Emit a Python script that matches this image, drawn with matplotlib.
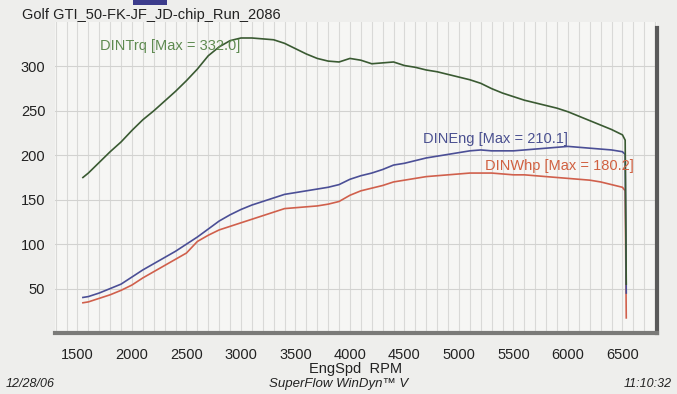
import matplotlib
matplotlib.use("Agg")
import matplotlib.pyplot as plt
from matplotlib.patches import Rectangle

plt.rcParams['font.family'] = ['Liberation Sans', 'DejaVu Sans']

rpm = [1550, 1600, 1700, 1800, 1900, 2000, 2100, 2200, 2300, 2400, 2500, 2600, 2700, 2800,
       2900, 3000, 3100, 3200, 3300, 3400, 3500, 3600, 3700, 3800, 3900, 4000, 4100, 4200,
       4300, 4400, 4500, 4600, 4700, 4800, 4900, 5000, 5100, 5200, 5300, 5400, 5500, 5600,
       5700, 5800, 5900, 6000, 6100, 6200, 6300, 6400, 6500, 6525, 6535]

din_trq = [175, 180, 192, 204, 215, 228, 240, 250, 261, 272, 284, 297, 312, 322,
           329, 332, 332, 331, 330, 326, 320, 314, 309, 306, 305, 309, 307, 303,
           304, 305, 301, 299, 296, 294, 291, 288, 285, 281, 275, 270, 266, 262,
           259, 256, 253, 249, 244, 239, 234, 229, 223, 217, 55]

din_eng = [40, 41, 45, 50, 55, 63, 71, 78, 85, 92, 100, 108, 117, 126,
           133, 139, 144, 148, 152, 156, 158, 160, 162, 164, 167, 173, 177, 180,
           184, 189, 191, 194, 197, 199, 201, 203, 205, 206, 205, 205, 205, 206,
           207, 208, 209, 210, 209, 208, 207, 206, 204, 201, 45]

din_whp = [34, 35, 39, 43, 48, 54, 62, 69, 76, 83, 90, 103, 110, 116,
           120, 124, 128, 132, 136, 140, 141, 142, 143, 145, 148, 155, 160, 163,
           166, 170, 172, 174, 176, 177, 178, 179, 180, 180, 180, 179, 178, 178,
           177, 176, 175, 174, 173, 172, 170, 167, 164, 160, 17]

x_ticks = [1500, 2000, 2500, 3000, 3500, 4000, 4500, 5000, 5500, 6000, 6500]
y_ticks = [50, 100, 150, 200, 250, 300]

title = "Golf GTI_50-FK-JF_JD-chip_Run_2086"
labels = ["DINTrq [Max = 332.0]", "DINEng [Max = 210.1]", "DINWhp [Max = 180.2]"]

fig = plt.figure(figsize=(6.77, 3.94), dpi=100)
fig.patch.set_facecolor('#eeeeec')
ax = fig.add_axes([55/677, 1-333/394, 602/677, 311/394])
ax.set_facecolor('#f6f6f4')

ax.set_xlim(1294, 6817)
ax.set_ylim(0, 350)

ax.set_xticks(x_ticks)
ax.set_yticks(y_ticks)
ax.set_xticks(range(1300, 6801, 100), minor=True)
ax.grid(which='minor', axis='x', color='#d9d9d7', linewidth=0.8)
ax.grid(which='major', axis='x', color='#d9d9d7', linewidth=0.8)
ax.grid(which='major', axis='y', color='#d2d2d0', linewidth=0.8)
ax.tick_params(which='both', length=0)
ax.tick_params(axis='x', labelsize=10.5, pad=11, colors='#222222')
ax.tick_params(axis='y', labelsize=10.5, pad=7, colors='#222222')

for s in ['left', 'top']:
    ax.spines[s].set_visible(False)
ax.spines['right'].set_color('#5a5a5a')
ax.spines['right'].set_linewidth(3)
ax.spines['right'].set_bounds(0, 343)
ax.spines['bottom'].set_color('#7a7a78')
ax.spines['bottom'].set_linewidth(3)

ax.plot(rpm, din_whp, color='#d0604c', linewidth=1.2, zorder=3)
ax.plot(rpm, din_eng, color='#4b4f96', linewidth=1.2, zorder=4)
ax.plot(rpm, din_trq, color='#3a5a32', linewidth=1.2, zorder=5)

ax.text(1706, 323, labels[0], color='#5e8a50', fontsize=10.5, va='center', ha='left', zorder=6)
ax.text(4670, 218.5, labels[1], color='#4a5090', fontsize=10.5, va='center', ha='left', zorder=6)
ax.text(5239, 188.5, labels[2], color='#d06040', fontsize=10.5, va='center', ha='left', zorder=6)

ax.set_xlabel("EngSpd  RPM", fontsize=10.5, labelpad=0, color='#222222')

fig.text(22/677, 1-15/394, title, fontsize=10.5, va='center', ha='left', color='#222222')
fig.patches.append(Rectangle((133/677, 1-5/394), 34/677, 5/394, transform=fig.transFigure,
                             facecolor='#3c3c8c', edgecolor='none'))

fig.text(6/677, 1-384/394, "12/28/06", fontsize=9, style='italic', va='center', ha='left', color='#222222')
fig.text(339/677, 1-384/394, "SuperFlow WinDyn\u2122 V", fontsize=9.5, style='italic', va='center', ha='center', color='#222222')
fig.text(672/677, 1-384/394, "11:10:32", fontsize=9, style='italic', va='center', ha='right', color='#222222')

fig.savefig("out.png", dpi=100, facecolor=fig.get_facecolor())
